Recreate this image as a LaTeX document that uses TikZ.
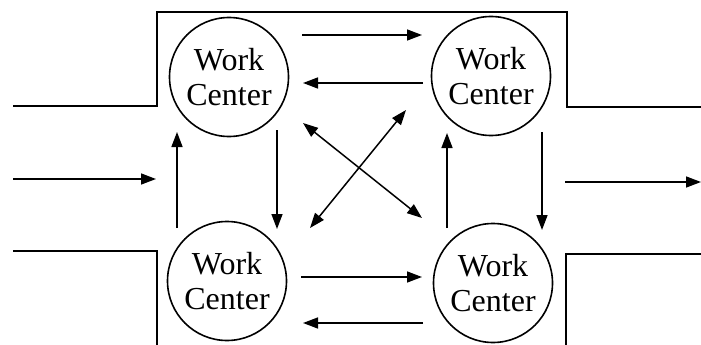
\documentclass[tikz,border=0pt]{standalone}
\usepackage{fontspec}
\setmainfont{Liberation Serif}
\usetikzlibrary{arrows.meta}
\begin{document}
\begin{tikzpicture}[x=1pt,y=-1pt,
  wc/.style={circle,draw,line width=1.6pt,minimum size=119pt,inner sep=0pt,
    align=center,font=\fontsize{32}{35}\selectfont},
  tip/.tip={Triangle[length=15pt,width=11pt]},
  flow/.style={line width=1.5pt,-tip},
  twoway/.style={line width=1.5pt,tip-tip},
  wall/.style={line width=2pt}]
\useasboundingbox (0,0) rectangle (701,345);

% plant walls
\draw[wall] (13,106) -- (157,106) -- (157,12) -- (567,12) -- (567,107) -- (701,107);
\draw[wall] (13,251) -- (157,251) -- (157,345);
\draw[wall] (701,254) -- (566,254) -- (566,345);

% work centers
\node[wc] (tl) at (229,77) {Work\\Center};
\node[wc] (tr) at (491,76) {Work\\Center};
\node[wc] (bl) at (227,281) {Work\\Center};
\node[wc] (br) at (493,283) {Work\\Center};

% connector end points
\coordinate (in0) at (13,179);   \coordinate (in1) at (156,179);
\coordinate (out0) at (565,182); \coordinate (out1) at (701,182);
\coordinate (t1a) at (302,35);   \coordinate (t1b) at (422,35);
\coordinate (t2a) at (423,83);   \coordinate (t2b) at (303,83);
\coordinate (b1a) at (301,277);  \coordinate (b1b) at (422,277);
\coordinate (b2a) at (423,323);  \coordinate (b2b) at (303,323);
\coordinate (l1a) at (177,228);  \coordinate (l1b) at (177,132);
\coordinate (l2a) at (277,130);  \coordinate (l2b) at (277,229);
\coordinate (r1a) at (447,228);  \coordinate (r1b) at (447,133);
\coordinate (r2a) at (542,132);  \coordinate (r2b) at (542,230);
\coordinate (d1a) at (303,123);  \coordinate (d1b) at (422,218);
\coordinate (d2a) at (310,228);  \coordinate (d2b) at (406,110);

% material flow
\draw[flow] (in0) -- (in1);
\draw[flow] (out0) -- (out1);
\draw[flow] (t1a) -- (t1b);
\draw[flow] (t2a) -- (t2b);
\draw[flow] (b1a) -- (b1b);
\draw[flow] (b2a) -- (b2b);
\draw[flow] (l1a) -- (l1b);
\draw[flow] (l2a) -- (l2b);
\draw[flow] (r1a) -- (r1b);
\draw[flow] (r2a) -- (r2b);
\draw[twoway] (d1a) -- (d1b);
\draw[twoway] (d2a) -- (d2b);
\end{tikzpicture}
\end{document}
